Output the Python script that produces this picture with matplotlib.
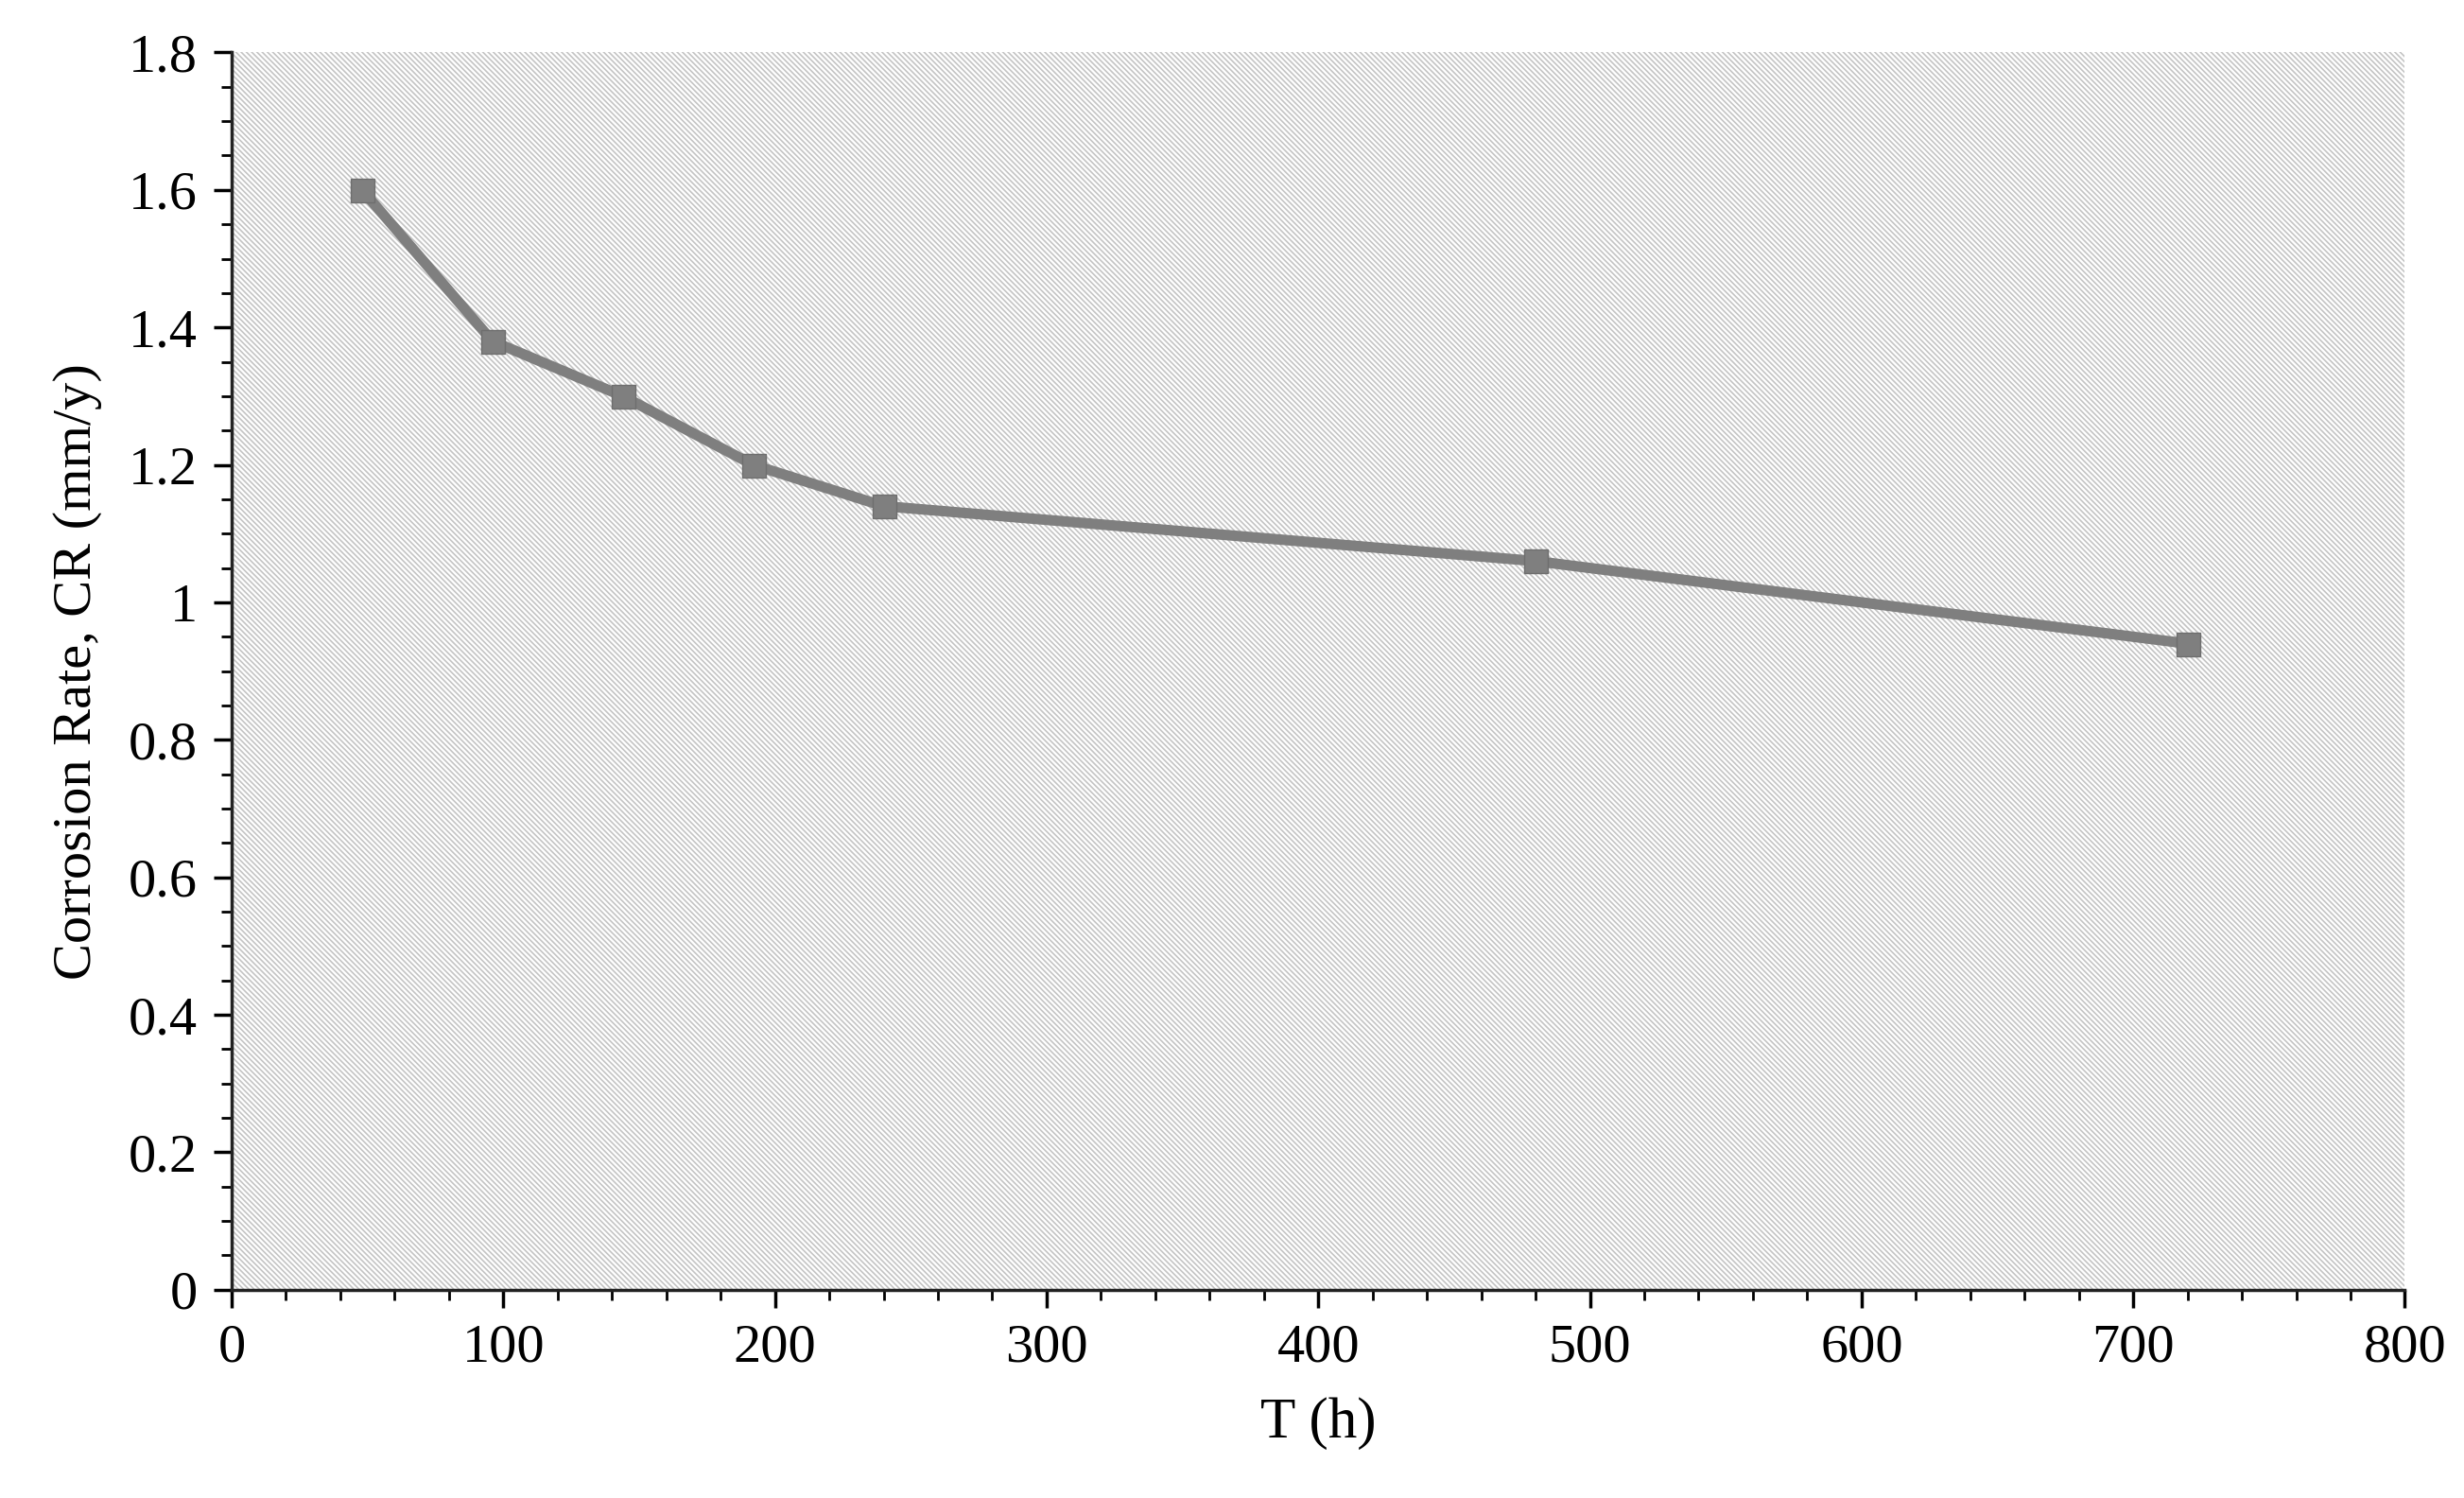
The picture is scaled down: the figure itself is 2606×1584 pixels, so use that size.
import matplotlib.pyplot as plt
from matplotlib.patches import Rectangle
from matplotlib.ticker import MultipleLocator

time_h = [48, 96, 144, 192, 240, 480, 720]
corrosion_rate = [1.60, 1.38, 1.30, 1.20, 1.14, 1.06, 0.94]

plt.rcParams['font.family'] = ['Liberation Serif', 'DejaVu Serif']
plt.rcParams['hatch.linewidth'] = 1.2

fig = plt.figure(figsize=(26.06, 15.84), dpi=100)
ax = fig.add_axes([0.094, 0.139, 0.882, 0.826])

# hatched plot area background
ax.add_patch(Rectangle((0, 0), 1, 1, transform=ax.transAxes, facecolor='white',
                       edgecolor='#c4c4c4', linewidth=0, hatch='\\\\\\\\\\\\', zorder=0))

ax.plot(time_h, corrosion_rate, color='#7f7f7f', lw=8, marker='s', ms=18,
        markerfacecolor='#7f7f7f', markeredgecolor='#6e6e6e', zorder=3)

ax.set_xlim(0, 800)
ax.set_ylim(0, 1.8)
ax.xaxis.set_major_locator(MultipleLocator(100))
ax.xaxis.set_minor_locator(MultipleLocator(20))
ax.yaxis.set_minor_locator(MultipleLocator(0.05))
ax.set_yticks([0, 0.2, 0.4, 0.6, 0.8, 1.0, 1.2, 1.4, 1.6, 1.8])
ax.set_yticklabels(['0', '0.2', '0.4', '0.6', '0.8', '1', '1.2', '1.4', '1.6', '1.8'])

for s in ['top', 'right']:
    ax.spines[s].set_visible(False)
for s in ['left', 'bottom']:
    ax.spines[s].set_linewidth(2.5)
    ax.spines[s].set_color('#222222')

ax.tick_params(which='major', direction='out', length=14, width=2.5, labelsize=42, pad=12)
ax.tick_params(which='minor', direction='out', length=8, width=2)

ax.set_xlabel('T (h)', fontsize=44, labelpad=18)
ax.set_ylabel('Corrosion Rate, CR (mm/y)', fontsize=42, labelpad=20)

fig.savefig('out.png', dpi=100)
